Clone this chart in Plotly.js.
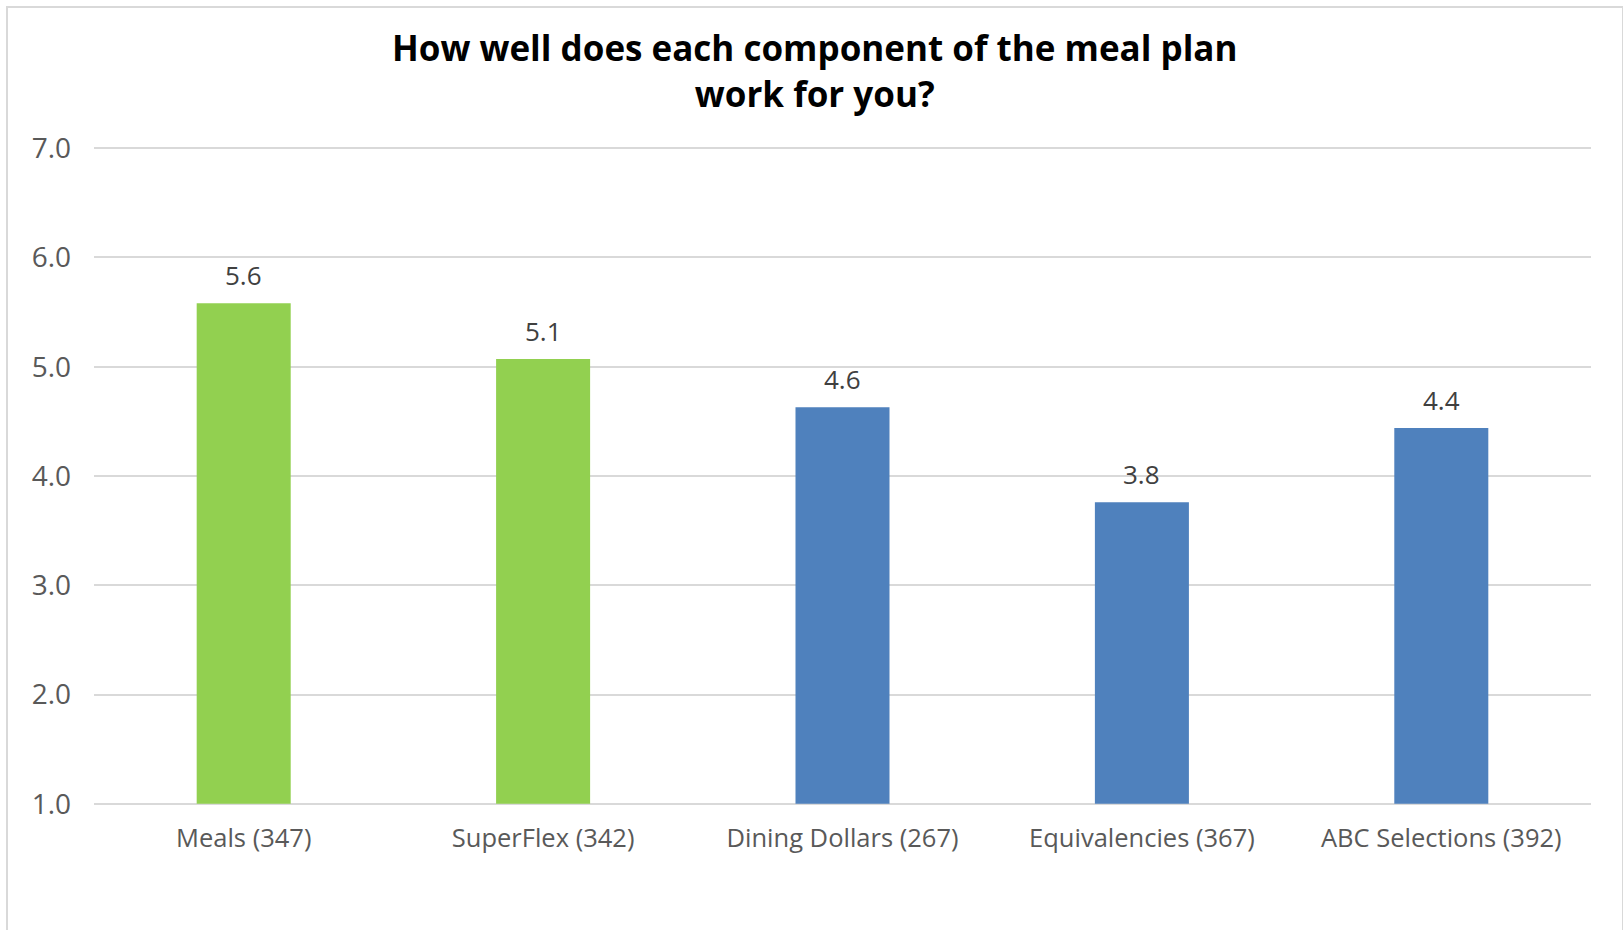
<!DOCTYPE html>
<html>
<head>
<meta charset="utf-8">
<script src="https://cdn.plot.ly/plotly-3.0.1.min.js"></script>
<style>
html,body{margin:0;padding:0;background:#fff;overflow:hidden;}
#chart{width:1623px;height:930px;position:absolute;left:0;top:0;}
#frame{position:absolute;left:6px;top:6px;width:1614px;height:1000px;border:2px solid #d9d9d9;border-bottom:none;pointer-events:none;}
</style>
</head>
<body>
<div id="chart"></div>
<div id="frame"></div>
<script>
const categories = ["Meals (347)", "SuperFlex (342)", "Dining Dollars (267)", "Equivalencies (367)", "ABC Selections (392)"];
const values = [5.58, 5.07, 4.63, 3.76, 4.44];
const barColors = ["#92d050", "#92d050", "#4f81bd", "#4f81bd", "#4f81bd"];
const tickVals = [1, 2, 3, 4, 5, 6, 7];
const tickText = ["1.0", "2.0", "3.0", "4.0", "5.0", "6.0", "7.0"];
const titleText = "How well does each component of the meal plan<br>work for you?";
const axisBase = 1;

const FONT = "Open Sans, Noto Sans, sans-serif";

const trace = {
  type: "bar",
  x: categories,
  y: values.map(v => v - axisBase),
  base: axisBase,
  marker: {color: barColors, line: {width: 0}},
  hoverinfo: "none"
};

const annotations = categories.map((c, i) => ({
  x: c, y: values[i], xref: "x", yref: "y",
  text: values[i].toFixed(1),
  showarrow: false, yanchor: "bottom", yshift: 8,
  font: {family: FONT, size: 26, color: "#404040"}
}));

const layout = {
  width: 1623, height: 930,
  paper_bgcolor: "#ffffff", plot_bgcolor: "#ffffff",
  margin: {l: 94, r: 32, t: 146, b: 124},
  showlegend: false,
  bargap: 0.686,
  title: {
    text: titleText,
    x: 0.502, xref: "container", xanchor: "center",
    y: 0.934, yref: "container", yanchor: "top",
    font: {family: FONT, size: 35, color: "#000000", weight: "bold"}
  },
  xaxis: {
    type: "category",
    showgrid: false, zeroline: false, showline: false,
    ticks: "", ticklabelstandoff: 14,
    tickfont: {family: FONT, size: 25.5, color: "#595959"}
  },
  yaxis: {
    range: [0.98, 7.02],
    tickvals: tickVals, ticktext: tickText,
    showgrid: true, gridcolor: "#d9d9d9", gridwidth: 2,
    zeroline: false, showline: false, ticks: "",
    ticklabelstandoff: 22,
    tickfont: {family: FONT, size: 28, color: "#595959"}
  },
  annotations: annotations
};

Plotly.newPlot("chart", [trace], layout, {displayModeBar: false, staticPlot: true});
</script>
</body>
</html>
